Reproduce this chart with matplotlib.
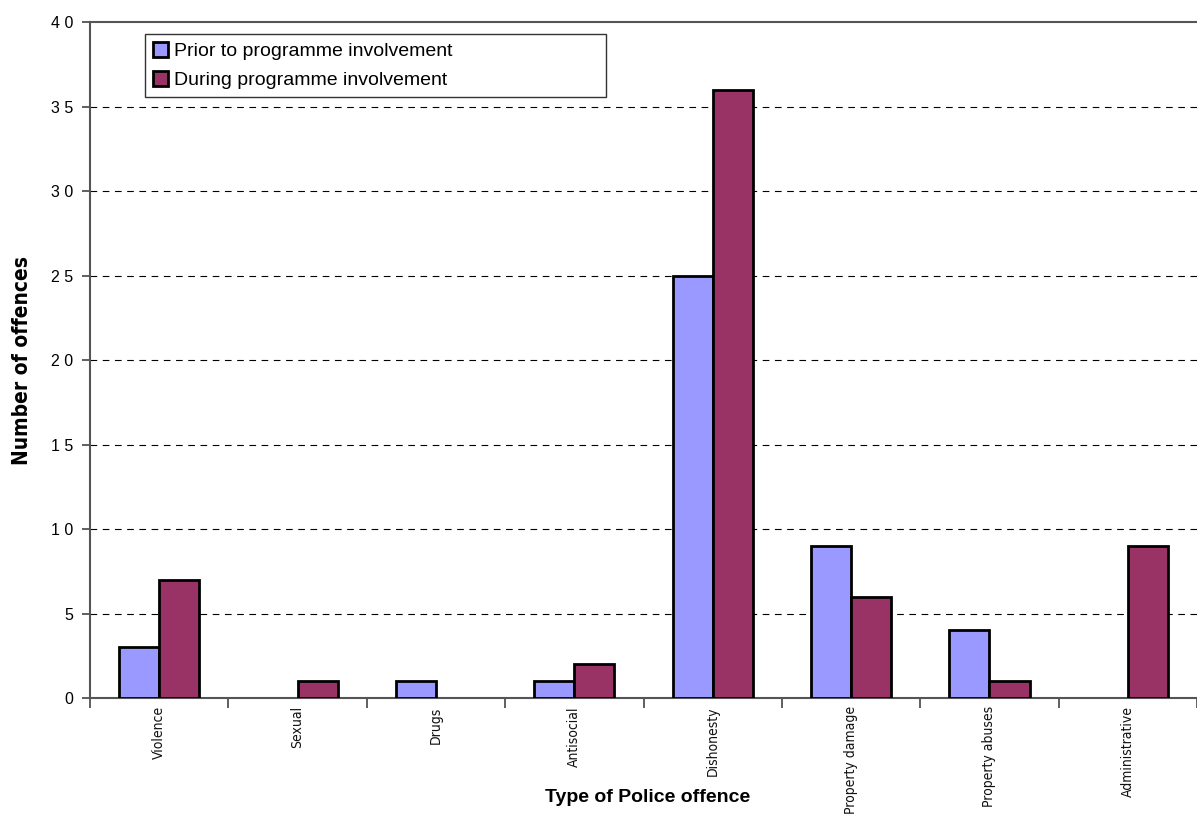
import numpy as np
import matplotlib.pyplot as plt

categories = ['Violence', 'Sexual', 'Drugs', 'Antisocial', 'Dishonesty',
              'Property damage', 'Property abuses', 'Administrative']
prior = [3, 0, 1, 1, 25, 9, 4, 0]
during = [7, 1, 0, 2, 36, 6, 1, 9]
series_labels = ['Prior to programme involvement', 'During programme involvement']

NARROW = {'family': 'DejaVu Sans', 'stretch': 'condensed'}


def plot_data():
    fig = plt.figure(figsize=(11.97, 8.16), dpi=100)
    ax = fig.add_axes([0.0752, 0.1446, 0.9248, 0.8284])

    x = np.arange(len(categories))
    w = 0.29
    for vals, off, col, lab in [(prior, -w / 2, '#9999FF', series_labels[0]),
                                (during, w / 2, '#993366', series_labels[1])]:
        bars = ax.bar(x + off, vals, w, color=col, edgecolor='black', linewidth=2,
                      label=lab, zorder=3)
        # empty categories get no outline
        for b, v in zip(bars, vals):
            if v == 0:
                b.set_visible(False)

    ax.set_xlim(-0.5, len(categories) - 0.5)
    ax.set_ylim(0, 40)
    ax.set_yticks(range(0, 41, 5))
    ax.set_yticklabels([' '.join(str(v)) for v in range(0, 41, 5)],
                       family='Liberation Sans', fontsize=11.5)
    for y in range(5, 40, 5):
        ax.axhline(y, color='black', linestyle=(0, (6, 5)), linewidth=0.8, zorder=1)

    # category boundaries carry the ticks, names sit at the centres
    ax.set_xticks(np.arange(len(categories) + 1) - 0.5)
    ax.set_xticklabels([])
    ax.set_xticks(x, minor=True)
    ax.set_xticklabels(categories, minor=True, rotation=90, va='top',
                       fontsize=10, color='#111111', **NARROW)
    ax.tick_params(axis='x', which='major', length=7, width=1.2, color='#444444')
    ax.tick_params(axis='x', which='minor', length=0, pad=6)
    ax.tick_params(axis='y', length=6, width=1.2, color='#444444', pad=6)

    for side in ['left', 'bottom', 'top']:
        ax.spines[side].set_color('#555555')
        ax.spines[side].set_linewidth(1.5)
    ax.spines['right'].set_visible(False)

    ax.set_ylabel('Number of offences', fontweight='bold', fontsize=15,
                  labelpad=14, **NARROW)
    fig.text(0.541, 0.023, 'Type of Police offence', ha='center', va='center',
             family='Liberation Sans', fontweight='bold', fontsize=14)

    leg = ax.legend(loc='upper left', bbox_to_anchor=(0.0495, 0.982, 0.4165, 0.0),
                    mode='expand', prop={'family': 'Liberation Sans', 'size': 14},
                    frameon=True, fancybox=False, handlelength=0.8, handleheight=0.8,
                    handletextpad=0.3, borderpad=0.4, labelspacing=0.55,
                    borderaxespad=0)
    leg.get_frame().set_edgecolor('black')
    leg.get_frame().set_linewidth(1.0)
    leg.set_zorder(5)

    fig.savefig('out.png', dpi=100)


def main():
    plot_data()


if __name__ == '__main__':
    main()
